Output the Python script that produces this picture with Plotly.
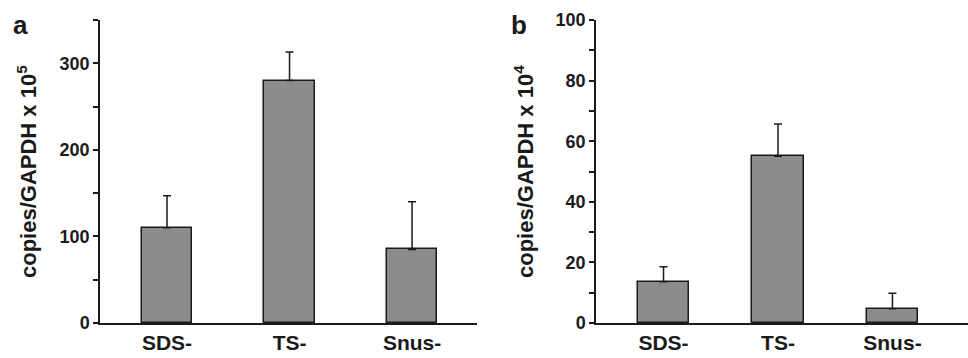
import plotly.graph_objects as go

categories = ["SDS-", "TS-", "Snus-"]
a_values = [110, 280, 85]
a_err = [37, 33, 55]
b_values = [13.6, 55, 4.7]
b_err = [5, 10.7, 5.1]

W, H = 968, 358
FONT = "Liberation Sans, Arial, sans-serif"
TXT = "#1a1a1a"
BAR = "#8c8c8c"

def px(x):
    return x / W

def py(y):
    return (H - y) / H

fig = go.Figure()
fig.add_trace(go.Bar(x=[0, 1, 2], y=a_values, width=0.41, marker=dict(color=BAR, line=dict(color="#1a1a1a", width=1.5)),
                     error_y=dict(type="data", array=a_err, arrayminus=[0, 0, 0], symmetric=False, color="#1a1a1a", thickness=1.5, width=4),
                     xaxis="x", yaxis="y", showlegend=False))
fig.add_trace(go.Bar(x=[0, 1, 2], y=b_values, width=0.45, marker=dict(color=BAR, line=dict(color="#1a1a1a", width=1.5)),
                     error_y=dict(type="data", array=b_err, arrayminus=[0, 0, 0], symmetric=False, color="#1a1a1a", thickness=1.5, width=4),
                     xaxis="x2", yaxis="y2", showlegend=False))

common_x = dict(tickmode="array", tickvals=[0, 1, 2], ticktext=categories, showline=True, linecolor="#1a1a1a", linewidth=1.5,
                ticks="", showgrid=False, zeroline=False, automargin=False,
                tickfont=dict(family=FONT, size=21, color=TXT, weight="bold"))
common_y = dict(showline=True, linecolor="#1a1a1a", linewidth=1.5, ticks="outside", ticklen=5, tickwidth=1.5, tickcolor="#1a1a1a",
                showgrid=False, zeroline=False, automargin=False,
                tickfont=dict(family=FONT, size=18, color=TXT, weight="bold"))

fig.update_layout(
    width=W, height=H, margin=dict(l=0, r=0, t=0, b=0, autoexpand=False), paper_bgcolor="white", plot_bgcolor="white", bargap=0,
    xaxis=dict(domain=[px(100), px(477)], range=[-0.547, 2.53], anchor="y", **common_x),
    yaxis=dict(domain=[py(323), py(20)], range=[0, 350], dtick=100, anchor="x",
               minor=dict(dtick=50, ticks="outside", ticklen=5, tickwidth=1.5, tickcolor="#1a1a1a"), **common_y),
    xaxis2=dict(domain=[px(596), 1.0], range=[-0.59, 2.66], anchor="y2", **common_x),
    yaxis2=dict(domain=[py(323), py(20)], range=[0, 100], dtick=20, anchor="x2",
                minor=dict(dtick=10, ticks="outside", ticklen=5, tickwidth=1.5, tickcolor="#1a1a1a"), **common_y),
)

annots = [
    dict(text="<b>copies/GAPDH x 10<sup>5</sup></b>", x=px(27), y=py(172), textangle=-90),
    dict(text="<b>copies/GAPDH x 10<sup>4</sup></b>", x=px(524), y=py(172), textangle=-90),
]
for a in annots:
    fig.add_annotation(xref="paper", yref="paper", showarrow=False, xanchor="center", yanchor="middle",
                       font=dict(family=FONT, size=22, color=TXT), **a)
fig.add_annotation(text="<b>a</b>", xref="paper", yref="paper", x=px(20), y=py(25), showarrow=False,
                   xanchor="center", yanchor="middle", font=dict(family=FONT, size=26, color=TXT))
fig.add_annotation(text="<b>b</b>", xref="paper", yref="paper", x=px(519), y=py(25), showarrow=False,
                   xanchor="center", yanchor="middle", font=dict(family=FONT, size=26, color=TXT))

fig.write_html("out.html", config={"displayModeBar": False},
               post_script="document.body.style.margin='0';document.body.style.overflow='hidden';")
